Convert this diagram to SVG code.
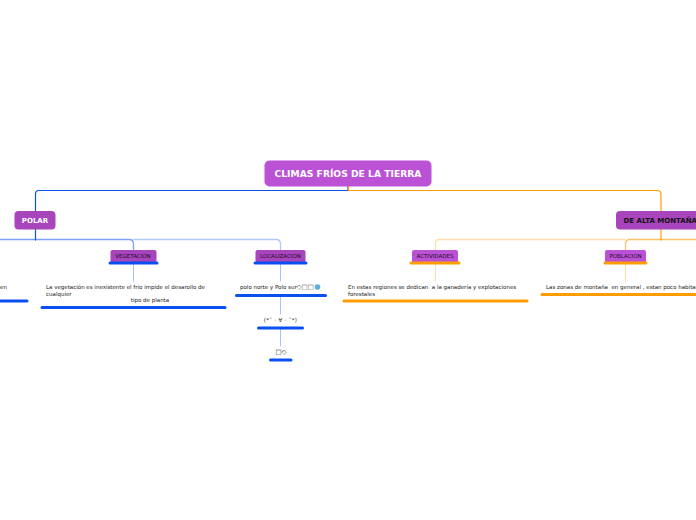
<svg xmlns="http://www.w3.org/2000/svg" width="696" height="520" viewBox="0 0 696 520">
<style>
text{font-family:"DejaVu Sans",Verdana,sans-serif;white-space:pre}
.c{fill:none;stroke-linecap:round}
.bl{stroke:#0a4ff0}.lb{stroke:#7f9ffa}.vl{stroke:#b4c8fc}.xb{stroke:#a8c0fb}
.or{stroke:#ff9d00}.lo{stroke:#ffc266}.vo{stroke:#ffdcaa}
.ul{fill:none;stroke-width:3;stroke-linecap:round}
.n{fill:#bb52d6}
.d{fill:#a845bd}
.t{font-size:5.500px;fill:#1a1a1a}
.s{font-size:5.500px;fill:#1a1a1a;text-anchor:middle}
.m{font-size:5.500px;fill:#200a28;text-anchor:middle}
</style>
<rect width="696" height="520" fill="#fff"/>
<g id="connectors">
<path class="c lb" d="M0 239.500H129Q133.500 239.500 133.500 244V250" stroke-width="1.300"/>
<path class="c vl" d="M133 239.500H276Q280.500 239.500 280.500 244V250" stroke-width="1.300"/>
<path class="c vo" d="M625 239.500H439Q435.500 239.500 435.500 244V250" stroke-width="1.300"/>
<path class="c lo" d="M696 239.500H630Q625.500 239.500 625.500 244V250" stroke-width="1.300"/>
<path class="c xb" d="M133.500 264V281" stroke-width="1"/>
<path class="c xb" d="M280.500 264V281M280.500 297V314M280.500 329V346" stroke-width="1"/>
<path class="c vo" d="M435.500 264V281M625.500 264V281" stroke-width="1.100"/>
<path class="c bl" d="M348 186V190.500H39Q35.500 190.500 35.500 194V240" stroke-width="1.200"/>
<path class="c or" d="M348.500 186V190.500H657Q661 190.500 661 194V240" stroke-width="1.200"/>
</g>
<g id="root"><rect class="n" x="264.500" y="160.500" width="167" height="26" rx="5"/><text x="348" y="177" text-anchor="middle" font-size="9.200" font-weight="700" fill="#fff">CLIMAS FRÍOS DE LA TIERRA</text></g>
<g id="polar"><rect class="d" x="14.500" y="211" width="41" height="18.500" rx="4"/><text x="35" y="223" text-anchor="middle" font-size="7" font-weight="700" fill="#fff">POLAR</text></g>
<g id="montana"><rect class="d" x="616" y="211" width="90" height="18.500" rx="4"/><text x="623.500" y="223" font-size="7" font-weight="700" fill="#111">DE ALTA MONTAÑA</text></g>
<g id="vegetacion"><rect class="d" x="110.500" y="250" width="46" height="13" rx="2"/><text class="m" x="133" y="258">VEGETACIÓN</text><path class="ul bl" d="M110 263H157"/></g>
<g id="localizacion"><rect class="d" x="255.500" y="250" width="50" height="13" rx="2"/><text class="m" x="280.500" y="258">LOCALIZACIÓN</text><path class="ul bl" d="M255 263H306"/></g>
<g id="actividades"><rect class="n" x="412" y="250" width="46" height="13" rx="2"/><text class="m" x="435" y="258">ACTIVIDADES</text><path class="ul or" d="M411 263H459"/></g>
<g id="poblacion"><rect class="n" x="605" y="250" width="41" height="13" rx="2"/><text class="m" x="625.500" y="258">POBLACIÓN</text><path class="ul or" d="M605 263H646"/></g>
<g id="left-leaf"><text class="t" x="0" y="289">en</text><path class="ul bl" d="M0 301H27"/></g>
<g id="veg-text"><text class="t" x="46" y="289">La vegetación es inexistente el frío impide el desarollo de</text><text class="t" x="46" y="296">cualquier</text><text class="s" x="150" y="302">tipo de planta</text><path class="ul bl" d="M42 307.500H225"/></g>
<g id="loc-text"><text class="t" x="240" y="289">polo norte y Polo sur</text><text x="296.500" y="289" style="font-size:6.500px" fill="#555">◇□□</text><circle cx="317.500" cy="287" r="2.800" fill="#5aaee0"/><path class="ul bl" d="M236.500 295.500H325.500"/></g>
<g id="kaomoji"><text class="s" x="280.500" y="322" letter-spacing=".3">(*¨ · ∀ · ¨*)</text><path class="ul bl" d="M258.500 328H302.500"/></g>
<g id="tofu"><text class="s" x="281" y="354" style="font-size:6.500px">□◇</text><path class="ul bl" d="M270.500 360H291"/></g>
<g id="act-text"><text class="t" x="348" y="289">En estas regiones se dedican  a la ganadería y explotaciones</text><text class="t" x="348" y="296">forestales</text><path class="ul or" d="M344 301H527"/></g>
<g id="pob-text"><text class="t" x="546" y="289">Las zonas de montaña  en general , estan poco habitadas</text><path class="ul or" d="M542 294.500H696"/></g>
</svg>
